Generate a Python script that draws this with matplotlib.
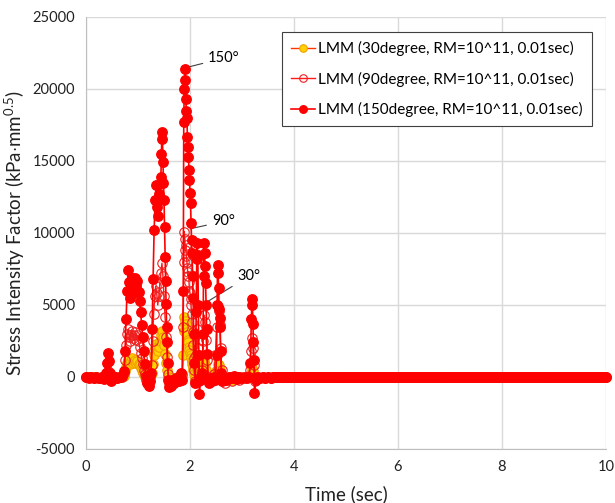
import matplotlib
matplotlib.use("Agg")
import matplotlib.pyplot as plt
import numpy as np

# (time [sec], K [kPa*mm^0.5]), active part only
s30 = [
    (0.00, 0), (0.05, -20), (0.10, 0), (0.15, -30), (0.20, 0), (0.25, -40), (0.30, 0), (0.35, -40),
    (0.40, 80), (0.44, 150), (0.48, 0), (0.55, -30), (0.60, 0), (0.65, 0), (0.70, 0),
    (0.73, 100), (0.75, 400), (0.77, 700), (0.79, 1000), (0.81, 1200), (0.83, 1000), (0.85, 900),
    (0.87, 1100), (0.89, 1300), (0.91, 1000), (0.93, 1100), (0.95, 1200), (0.97, 1000), (0.99, 1100),
    (1.01, 900), (1.03, 800), (1.05, 600), (1.07, 500), (1.09, 300), (1.11, 200), (1.13, 0),
    (1.16, -100), (1.20, -100), (1.23, 0),
    (1.26, 300), (1.28, 900), (1.30, 1500), (1.32, 2000), (1.34, 2300), (1.36, 2100), (1.38, 1800),
    (1.40, 2100), (1.42, 2500), (1.44, 2900), (1.46, 3200), (1.48, 2800), (1.50, 2200), (1.52, 1600),
    (1.54, 1000), (1.56, 500), (1.58, 0), (1.62, -200), (1.66, -100), (1.70, -200), (1.75, 0),
    (1.80, -100), (1.85, 100),
    (1.87, 1500), (1.88, 3200), (1.89, 4200), (1.90, 3900), (1.91, 3600), (1.92, 3700), (1.93, 3300),
    (1.94, 3100), (1.95, 2900), (1.96, 2600), (1.97, 2400), (1.98, 2100), (1.99, 1900), (2.00, 1700),
    (2.01, 1500), (2.02, 1300), (2.03, 1100), (2.04, 900), (2.05, 700), (2.06, 500), (2.08, 200),
    (2.10, -100), (2.13, 500), (2.15, 1000), (2.17, 600), (2.19, 0), (2.22, -100), (2.25, 600),
    (2.27, 1100), (2.29, 900), (2.31, 500), (2.33, 100), (2.36, -100), (2.40, -200), (2.45, 0),
    (2.50, 400), (2.53, 900), (2.55, 800), (2.57, 500), (2.60, 100), (2.65, -200), (2.70, -100),
    (2.80, -200), (2.90, 0), (3.00, -100), (3.10, 0), (3.17, 300), (3.19, 600), (3.21, 400),
    (3.24, 0), (3.30, -50), (3.40, 0), (3.50, -30), (3.60, 0), (3.65, 0),
]

s90 = [
    (0.00, 0), (0.05, -30), (0.10, 0), (0.15, -50), (0.20, 0), (0.25, -60), (0.30, 0), (0.35, -80),
    (0.40, 200), (0.42, 400), (0.44, 200), (0.46, 0), (0.50, -100), (0.55, 0), (0.60, -50),
    (0.65, 0), (0.70, 0),
    (0.73, 300), (0.75, 1200), (0.77, 2200), (0.79, 3000), (0.81, 3300), (0.83, 2800), (0.85, 2500),
    (0.87, 2900), (0.89, 3200), (0.91, 2700), (0.93, 2900), (0.95, 3100), (0.97, 2600), (0.99, 2900),
    (1.01, 2500), (1.03, 2100), (1.05, 1700), (1.07, 1300), (1.09, 900), (1.11, 500), (1.13, 200),
    (1.15, -200), (1.17, -300), (1.19, -100), (1.21, -300), (1.23, 0),
    (1.26, 800), (1.28, 2500), (1.30, 4400), (1.32, 5600), (1.34, 6300), (1.36, 5800), (1.38, 5000),
    (1.40, 5600), (1.42, 6500), (1.44, 7200), (1.46, 7900), (1.48, 7000), (1.50, 5600), (1.52, 4200),
    (1.54, 2800), (1.56, 1400), (1.58, 200), (1.60, -400), (1.63, -200), (1.66, -500), (1.70, -200),
    (1.74, -300), (1.78, 0), (1.82, -100), (1.85, 200),
    (1.87, 3500), (1.88, 8000), (1.89, 10100), (1.90, 9600), (1.91, 8800), (1.92, 9200), (1.93, 8400),
    (1.94, 8000), (1.95, 7600), (1.96, 7000), (1.97, 7300), (1.98, 6600), (1.99, 6000), (2.00, 5800),
    (2.01, 5400), (2.02, 5000), (2.03, 4400), (2.04, 3800), (2.05, 3100), (2.06, 2200), (2.07, 1300),
    (2.08, 500), (2.10, -300), (2.12, 1500), (2.14, 3300), (2.16, 2000), (2.18, -300), (2.20, -100),
    (2.23, 500), (2.25, 2500), (2.27, 4300), (2.29, 3800), (2.31, 2600), (2.33, 1200), (2.35, 0),
    (2.38, -300), (2.42, -200), (2.46, 200), (2.49, 1500), (2.51, 3500), (2.53, 4900), (2.55, 4600),
    (2.57, 3600), (2.59, 2000), (2.61, 500), (2.64, -200), (2.68, -400), (2.72, -200), (2.76, 0),
    (2.80, -300), (2.85, -100), (2.90, 0), (2.95, -200), (3.00, 0), (3.05, -100), (3.10, 0),
    (3.15, 500), (3.17, 1800), (3.19, 2700), (3.21, 2000), (3.23, 800), (3.25, -300), (3.28, 0),
    (3.33, -100), (3.40, 0), (3.45, -50), (3.50, 0), (3.55, -50), (3.60, 0), (3.65, 0),
]

s150 = [
    (0.00, 0), (0.05, -50), (0.10, 30), (0.15, -80), (0.20, 0), (0.25, -100), (0.30, 20), (0.35, -150),
    (0.38, 300), (0.40, 1000), (0.42, 1700), (0.44, 1100), (0.46, 300), (0.48, -300), (0.50, -100),
    (0.55, 0), (0.60, -60), (0.65, 0), (0.70, 50),
    (0.73, 400), (0.75, 1800), (0.77, 4000), (0.79, 6000), (0.81, 7400), (0.83, 6600), (0.85, 5500),
    (0.87, 6300), (0.89, 6900), (0.91, 5800), (0.93, 6500), (0.95, 6900), (0.97, 6300), (0.99, 6700),
    (1.01, 5900), (1.03, 5300), (1.05, 4500), (1.07, 3600), (1.09, 2800), (1.11, 1800), (1.13, 900),
    (1.15, 100), (1.17, -400), (1.19, -200), (1.21, -600), (1.23, -300), (1.25, 300),
    (1.27, 3300), (1.29, 6800), (1.31, 10200), (1.33, 12300), (1.35, 13300), (1.37, 11800),
    (1.39, 11200), (1.41, 12700), (1.43, 13400), (1.44, 13900), (1.45, 15500), (1.46, 17000),
    (1.47, 16500), (1.48, 14900), (1.49, 13500), (1.50, 12300), (1.51, 10400), (1.52, 8300),
    (1.53, 6700), (1.54, 5100), (1.55, 3500), (1.56, 2400), (1.57, 1000), (1.58, -200), (1.60, -700),
    (1.62, -300), (1.64, -600), (1.67, -200), (1.70, -400), (1.74, -100), (1.78, -300), (1.81, 0),
    (1.83, 300), (1.85, -200),
    (1.87, 6000), (1.88, 17700), (1.89, 20000), (1.90, 21400), (1.91, 20600), (1.92, 19300),
    (1.93, 18500), (1.94, 18000), (1.95, 16700), (1.96, 16000), (1.97, 15300), (1.98, 14400),
    (1.99, 13700), (2.00, 12800), (2.01, 12100), (2.02, 10700), (2.03, 9500), (2.04, 8600),
    (2.05, 7000), (2.06, 5500), (2.07, 3000), (2.08, 1000), (2.10, -400),
    (2.12, 4500), (2.13, 8200), (2.14, 9300), (2.15, 8500), (2.16, 5000), (2.17, 1500), (2.18, -1200),
    (2.20, -200), (2.22, 0), (2.24, 300), (2.25, 3000), (2.26, 7000), (2.27, 9300), (2.28, 8600),
    (2.29, 7700), (2.30, 6500), (2.31, 5000), (2.32, 3300), (2.33, 1600), (2.35, -200), (2.37, -400),
    (2.40, -100), (2.43, -300), (2.46, 0), (2.49, -200), (2.51, 1500), (2.52, 5000), (2.53, 7800),
    (2.54, 7200), (2.55, 6200), (2.56, 4700), (2.57, 4100), (2.58, 3500), (2.59, 1800), (2.60, 300),
    (2.62, -300), (2.65, -100), (2.70, -200), (2.75, 0), (2.80, -100), (2.85, 50), (2.90, -150),
    (2.95, 0), (3.00, -100), (3.05, 0), (3.10, -50), (3.14, 0), (3.16, 1000), (3.18, 4000),
    (3.19, 5400), (3.20, 5000), (3.21, 3700), (3.22, 2400), (3.23, 1200), (3.24, -1100), (3.26, -200),
    (3.30, 0), (3.35, -100), (3.40, 0), (3.45, -50), (3.50, 0), (3.55, -80), (3.60, 0), (3.65, 0),
]

# after ~3.7 s every series sits at zero up to 10 s
t_quiet = np.arange(3.70, 10.001, 0.05)
labels = ["LMM (30degree, RM=10^11, 0.01sec)",
          "LMM (90degree, RM=10^11, 0.01sec)",
          "LMM (150degree, RM=10^11, 0.01sec)"]

def unpack(pairs):
    t, v = zip(*pairs)
    t = np.concatenate([t, t_quiet])
    v = np.concatenate([v, np.zeros(len(t_quiet))])
    return t, v

plt.rcParams['font.family'] = ['Lato', 'DejaVu Sans']
plt.rcParams['mathtext.fontset'] = 'custom'
plt.rcParams['mathtext.rm'] = 'Lato'
plt.rcParams['mathtext.it'] = 'Lato'
plt.rcParams['axes.unicode_minus'] = False

fig = plt.figure(figsize=(6.15, 5.03), dpi=100)
ax = fig.add_axes([86/615, 1 - 449/503, 520/615, 432/503])

t, v = unpack(s30)
ax.plot(t, v, '-o', color='#ff3300', lw=1.0, ms=6.8, mfc='#ffd200', mec='#f0a000', mew=0.8,
        clip_on=False, label=labels[0], zorder=3)
t, v = unpack(s90)
ax.plot(t, v, '-o', color='#ff1a1a', lw=1.0, ms=6.8, mfc='none', mec='#ee2020', mew=0.8,
        clip_on=False, label=labels[1], zorder=4)
t, v = unpack(s150)
ax.plot(t, v, '-o', color='#ff0000', lw=1.2, ms=6.8, mfc='#ff0000', mec='#ff0000',
        clip_on=False, label=labels[2], zorder=5)

ax.set_xlim(0, 10)
ax.set_ylim(-5000, 25000)
ax.set_xticks(range(0, 11, 2))
ax.set_yticks(range(-5000, 25001, 5000))
ax.grid(True, color='#d9d9d9', lw=1.0)
ax.set_axisbelow(True)
for side in ['top', 'right']:
    ax.spines[side].set_visible(False)
for side in ['left', 'bottom']:
    ax.spines[side].set_color('#bfbfbf')
ax.tick_params(length=0, labelsize=10.5, colors='#222222', pad=8)

ax.set_xlabel("Time (sec)", fontsize=13.5, color='#222222', labelpad=8)
ax.set_ylabel(r"Stress Intensity Factor (kPa$\cdot$mm$^{0.5}$)", fontsize=13.5, color='#222222',
              labelpad=4)

# angle call-outs
ax.annotate("150°", xy=(1.94, 21500), xytext=(2.35, 22150), fontsize=10.5, va='center',
            arrowprops=dict(arrowstyle='-', color='#404040', lw=0.8))
ax.annotate("90°", xy=(1.95, 10250), xytext=(2.42, 10800), fontsize=10.5, va='center',
            arrowprops=dict(arrowstyle='-', color='#404040', lw=0.8))
ax.annotate("30°", xy=(1.96, 4400), xytext=(2.91, 7000), fontsize=10.5, va='center',
            arrowprops=dict(arrowstyle='-', color='#404040', lw=0.8))

leg = ax.legend(loc='upper right', bbox_to_anchor=((592 - 86)/520, (449 - 32)/432),
                fontsize=11, fancybox=False, framealpha=1, edgecolor='#404040',
                labelspacing=1.0, handlelength=1.6, handletextpad=0.2, borderpad=0.6,
                borderaxespad=0, markerscale=0.8)
leg.get_frame().set_linewidth(0.8)

fig.savefig("out.png", dpi=100)
